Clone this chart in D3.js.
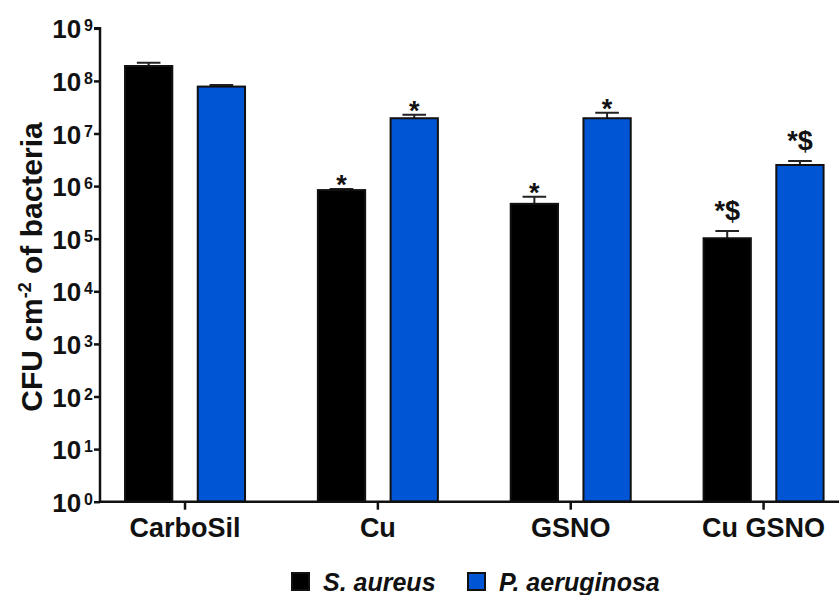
<!DOCTYPE html>
<html>
<head>
<meta charset="utf-8">
<script src="https://cdn.jsdelivr.net/npm/d3@7"></script>
<style>
  body { margin: 0; background: #fff; }
  text { font-family: "Liberation Sans", Arial, sans-serif; fill: #111; }
  .axis path, .axis line { stroke: #111; stroke-width: 2.5; }
</style>
</head>
<body>
<div id="chart"></div>
<script>
// data
const categories = ["CarboSil", "Cu", "GSNO", "Cu GSNO"];
const seriesNames = ["S. aureus", "P. aeruginosa"];
const saureus = [1.92e8, 8.4e5, 4.6e5, 1.02e5];
const saureusErr = [3.0e7, 4.0e4, 1.7e5, 3.8e4];
const paeruginosa = [7.8e7, 1.95e7, 1.95e7, 2.52e6];
const paeruginosaErr = [6.0e6, 3.3e6, 5.3e6, 4.8e5];
const saureusSig = ["", "*", "*", "*$"];
const paeruginosaSig = ["", "*", "*", "*$"];
const yTicks = [1, 10, 1e2, 1e3, 1e4, 1e5, 1e6, 1e7, 1e8, 1e9];
const colors = ["#000000", "#0055d4"];

const W = 839, H = 595;
const margin = {top: 28.3, right: 0, bottom: 93.3, left: 100};
const axisX = margin.left, axisY = H - margin.bottom;

const svg = d3.select("#chart").append("svg")
    .attr("width", W)
    .attr("height", H);

const y = d3.scaleLog()
    .domain([1, 1e9])
    .range([axisY, margin.top]);

// group centres at ~185, 378, 571, 764
const x = d3.scaleBand()
    .domain(categories)
    .range([88.6, 860])
    .padding(0);

const sub = d3.scaleBand()
    .domain([0, 1])
    .range([-60, 60])
    .paddingInner(0.35)
    .paddingOuter(0);

let rows = [];
categories.forEach((c, i) => {
    rows.push({cat: c, s: 0, v: saureus[i], e: saureusErr[i], sig: saureusSig[i]});
    rows.push({cat: c, s: 1, v: paeruginosa[i], e: paeruginosaErr[i], sig: paeruginosaSig[i]});
});

const bx = d => x(d.cat) + x.bandwidth() / 2 + sub(d.s);
const bw = sub.bandwidth();

// error bars (upper only)
svg.selectAll(".err")
    .data(rows)
    .enter().append("path")
    .attr("class", "err")
    .attr("fill", "none")
    .attr("stroke", "#222")
    .attr("stroke-width", 2)
    .attr("d", d => {
        let cx = bx(d) + bw / 2, top = y(d.v + d.e);
        return `M${cx},${y(d.v)}V${top}M${cx - bw / 4},${top}H${cx + bw / 4}`;
    });

// bars
svg.selectAll(".bar")
    .data(rows)
    .enter().append("rect")
    .attr("class", "bar")
    .attr("x", d => bx(d))
    .attr("width", bw)
    .attr("y", d => y(d.v))
    .attr("height", d => axisY - y(d.v))
    .attr("fill", d => colors[d.s])
    .attr("stroke", "#111")
    .attr("stroke-width", 2);

// significance marks
svg.selectAll(".sig")
    .data(rows.filter(d => d.sig))
    .enter().append("text")
    .attr("class", "sig")
    .attr("text-anchor", "middle")
    .attr("x", d => bx(d) + bw / 2)
    .attr("y", d => y(d.v + d.e) + (d.sig === "*" ? 5 : -11))
    .style("font-size", "27px")
    .style("font-weight", "bold")
    .text(d => d.sig);

// y axis
const yAxis = svg.append("g")
    .attr("class", "axis")
    .attr("transform", `translate(${axisX},0)`)
    .call(d3.axisLeft(y).tickValues(yTicks).tickSize(6).tickFormat(""));
yAxis.select(".domain").attr("d", `M-6,${margin.top}H0V${axisY}`);

const tickLab = svg.append("g").selectAll("text")
    .data(yTicks)
    .enter().append("text")
    .attr("text-anchor", "end")
    .attr("x", axisX - 7)
    .attr("y", d => y(d) + 10)
    .style("font-weight", "bold")
    .style("font-size", "26px");
tickLab.append("tspan").text("10");
tickLab.append("tspan")
    .attr("dx", 3)
    .attr("dy", -7)
    .style("font-size", "16px")
    .text(d => Math.round(Math.log10(d)));

// x axis
const xAxis = svg.append("g")
    .attr("class", "axis")
    .attr("transform", `translate(0,${axisY})`)
    .call(d3.axisBottom(x).tickSize(8).tickFormat(""));
xAxis.select(".domain").attr("d", `M${axisX},0H${W}`);

svg.append("g").selectAll("text")
    .data(categories)
    .enter().append("text")
    .attr("text-anchor", "middle")
    .attr("x", d => x(d) + x.bandwidth() / 2)
    .attr("y", axisY + 35)
    .style("font-weight", "bold")
    .style("font-size", "27px")
    .text(d => d);

// y title
const title = svg.append("text")
    .attr("transform", `translate(42,${(margin.top + axisY) / 2 + 2}) rotate(-90)`)
    .attr("text-anchor", "middle")
    .style("font-weight", "bold")
    .style("font-size", "30px");
title.append("tspan").text("CFU cm");
title.append("tspan").attr("dy", -11).style("font-size", "18px").text("-2");
title.append("tspan").attr("dy", 11).text(" of bacteria");

// legend
const legX = [292, 468];
const leg = svg.append("g").selectAll("g")
    .data(seriesNames)
    .enter().append("g")
    .attr("transform", (d, i) => `translate(${legX[i]},573)`);
leg.append("rect")
    .attr("width", 17)
    .attr("height", 17)
    .attr("fill", (d, i) => colors[i])
    .attr("stroke", "#111")
    .attr("stroke-width", 2);
leg.append("text")
    .attr("x", 31)
    .attr("y", 18)
    .style("font-weight", "bold")
    .style("font-style", "italic")
    .style("font-size", "25px")
    .text(d => d);
</script>
</body>
</html>
